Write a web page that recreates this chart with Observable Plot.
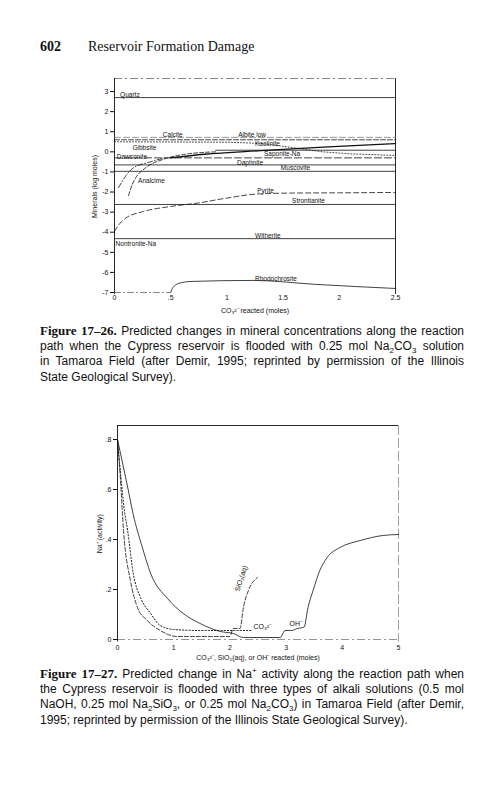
<!DOCTYPE html>
<html><head><meta charset="utf-8">
<script src="https://cdn.jsdelivr.net/npm/d3@7"></script>
<script src="https://cdn.jsdelivr.net/npm/@observablehq/plot@0.6"></script>
<style>
body{margin:0;width:498px;height:800px;position:relative;background:#fff;overflow:hidden;font-family:"Liberation Sans",Arial,sans-serif;color:#111}
.hdr{position:absolute;left:40px;top:39px;font-family:"Liberation Serif","Times New Roman",serif;font-size:14px;line-height:16px}
.cap{position:absolute;left:40px;width:424px;font-size:12px;line-height:15.7px}
.cap div{white-space:nowrap;text-align:justify;text-align-last:justify;height:15.7px}
.cap div.last{text-align-last:left}
.cap b{font-family:"Liberation Serif","Times New Roman",serif;font-size:13px}
.cap sub,.cap sup{font-size:8px;line-height:0}
.chart{position:absolute;left:0}
</style></head>
<body>
<div class="hdr"><b>602</b><span style="position:absolute;left:48px;white-space:nowrap">Reservoir Formation Damage</span></div>
<div id="c1" class="chart" style="top:0"></div>
<div class="cap" style="top:323px">
<div><b>Figure 17–26.</b> Predicted changes in mineral concentrations along the reaction</div>
<div>path when the Cypress reservoir is flooded with 0.25 mol Na<sub>2</sub>CO<sub>3</sub> solution</div>
<div>in Tamaroa Field (after Demir, 1995; reprinted by permission of the Illinois</div>
<div class="last">State Geological Survey).</div>
</div>
<div id="c2" class="chart" style="top:400px"></div>
<div class="cap" style="top:666px">
<div><b>Figure 17–27.</b> Predicted change in Na<sup>+</sup> activity along the reaction path when</div>
<div>the Cypress reservoir is flooded with three types of alkali solutions (0.5 mol</div>
<div>NaOH, 0.25 mol Na<sub>2</sub>SiO<sub>3</sub>, or 0.25 mol Na<sub>2</sub>CO<sub>3</sub>) in Tamaroa Field (after Demir,</div>
<div class="last">1995; reprinted by permission of the Illinois State Geological Survey).</div>
</div>
<script>
// ---------- Figure 17-26 data ----------
const xDomain1 = [0, 2.5];
const yDomain1 = [-7.1, 3.65];
const xTicks1 = [0, 0.5, 1, 1.5, 2, 2.5];
const xTickLabels1 = ["0", ".5", "1", "1.5", "2", "2.5"];
const yTicks1 = [3, 2, 1, 0, -1, -2, -3, -4, -5, -6, -7];

const quartz = [[0, 2.7], [2.5, 2.7]];
const calcite = [[0, 0.72], [2.5, 0.72]];
const albiteLow = [[0, 0.6], [2.5, 0.6]];
const gibbsite = [[0, 0.5], [1.0, 0.48], [1.3, 0.42], [1.6, 0.2], [1.85, 0.0], [2.1, -0.1], [2.5, -0.18]];
const kaolinite = [[0.5, -0.3], [0.8, -0.12], [1.3, 0.06], [1.9, 0.25], [2.5, 0.41]];
const saponiteNa = [[0.9, 0.08], [2.5, 0.08]];
const dawsonite = [[0, -0.3], [2.5, -0.3]];
const dawsoniteRise = [[0.036, -1.78], [0.1, -1.2], [0.16, -0.83], [0.3, -0.53], [0.45, -0.3]];
const daphnite = [[0, -0.65], [2.5, -0.65]];
const muscovite = [[0, -0.97], [2.5, -0.97]];
const analcime = [[0.125, -2.17], [0.16, -1.6], [0.19, -1.28], [0.28, -0.78], [0.43, -0.38], [0.63, -0.12], [0.9, 0.0]];
const pyrite = [[0, -3.95], [0.05, -3.55], [0.1, -3.3], [0.25, -2.98], [0.5, -2.72], [0.74, -2.55], [1.0, -2.3], [1.27, -2.1], [1.6, -2.05], [2.0, -2.04], [2.5, -2.02]];
const strontianite = [[0, -2.62], [2.5, -2.62]];
const witherite = [[0, -4.32], [2.5, -4.32]];
const rhodochrosite = [[0.5, -7], [0.52, -6.75], [0.57, -6.55], [0.68, -6.45], [1.24, -6.4], [1.8, -6.6], [2.5, -6.8]];
const rhodoFlat = [[0, -7], [0.5, -7]];

const labelNames1 = ["Quartz", "Calcite", "Albite low", "Gibbsite", "Kaolinite", "Saponite-Na", "Dawsonite", "Daphnite", "Muscovite", "Analcime", "Pyrite", "Strontianite", "Witherite", "Nontronite-Na", "Rhodochrosite"];
const labelX1 = [0.05, 0.43, 1.1, 0.16, 1.25, 1.33, 0.02, 1.09, 1.48, 0.21, 1.27, 1.58, 1.25, 0.01, 1.25];
const labelY1 = [2.85, 0.86, 0.86, 0.21, 0.41, -0.12, -0.26, -0.53, -0.78, -1.43, -1.93, -2.42, -4.16, -4.6, -6.3];

// ---------- Figure 17-27 data ----------
const xDomain2 = [0, 5];
const yDomain2 = [-0.01, 0.856];
const xTicks2 = [0, 1, 2, 3, 4, 5];
const yTicks2 = [0, 0.2, 0.4, 0.6, 0.8];
const yTickLabels2 = ["0", ".2", ".4", ".6", ".8"];

const naoh = [[0, 0.8], [0.18, 0.61], [0.28, 0.5], [0.44, 0.37], [0.59, 0.264], [0.89, 0.164], [1.17, 0.104], [1.47, 0.064], [1.83, 0.032], [2.06, 0.024], [2.24, 0.008], [2.9, 0.008], [2.93, 0.018], [2.98, 0.036], [3.1, 0.036], [3.2, 0.044], [3.32, 0.05], [3.39, 0.128], [3.48, 0.196], [3.6, 0.276], [3.73, 0.328], [3.96, 0.368], [4.32, 0.396], [4.72, 0.416], [5.0, 0.42]];
const na2co3 = [[0, 0.8], [0.06, 0.65], [0.12, 0.52], [0.18, 0.436], [0.28, 0.264], [0.41, 0.168], [0.59, 0.104], [0.76, 0.056], [1.0, 0.04], [1.47, 0.036], [2.4, 0.036]];
const na2sio3 = [[0, 0.8], [0.05, 0.65], [0.107, 0.436], [0.23, 0.236], [0.355, 0.128], [0.53, 0.076], [0.76, 0.036], [1.07, 0.012], [2.0, 0.012], [2.06, 0.044], [2.18, 0.044], [2.24, 0.128], [2.33, 0.196], [2.49, 0.248]];

const curveLabels2 = ["CO₃²⁻", "OH⁻"];
const curveLabelX2 = [2.42, 3.06];
const curveLabelY2 = [0.05, 0.062];
const sioLabel = ["SiO₂(aq)"];
const sioLabelX = [2.2];
const sioLabelY = [0.244];

// ---------- Chart 1 ----------
const L = (pts, o) => Plot.line(pts, {x: d => d[0], y: d => d[1], stroke: "#111", strokeWidth: 0.8, ...o});
const c1 = Plot.plot({
  width: 498, height: 320,
  marginLeft: 114, marginRight: 103, marginTop: 78, marginBottom: 26,
  style: {fontFamily: "Liberation Sans, Arial, sans-serif", fontSize: "7px", background: "transparent", color: "#111"},
  x: {domain: xDomain1, ticks: xTicks1, tickFormat: d => xTickLabels1[xTicks1.indexOf(d)], tickSize: 0, tickPadding: 1,
      label: "CO₃²⁻ reacted (moles)", labelAnchor: "center", labelOffset: 18, labelArrow: false},
  y: {domain: yDomain1, ticks: yTicks1, tickFormat: d => String(d), tickSize: 4, tickPadding: 2,
      label: "Minerals (log moles)", labelAnchor: "center", labelOffset: 22, labelArrow: false},
  marks: [
    Plot.ruleY([yDomain1[1]], {stroke: "#666", strokeDasharray: "8,3,2,3", strokeWidth: 0.8}),
    Plot.ruleX([xDomain1[0]], {stroke: "#111", strokeWidth: 0.9}),
    Plot.ruleX([xDomain1[1]], {stroke: "#111", strokeWidth: 0.9}),
    L(quartz, {}),
    L(calcite, {stroke: "#777", strokeDasharray: "6,3"}),
    L(albiteLow, {strokeDasharray: "5,2"}),
    L(gibbsite, {strokeDasharray: "1,2"}),
    L(kaolinite, {strokeWidth: 1.3, curve: "monotone-x"}),
    L(saponiteNa, {}),
    L(dawsonite, {strokeDasharray: "7,3"}),
    L(dawsoniteRise, {strokeDasharray: "5,2,1,2", curve: "monotone-x"}),
    L(daphnite, {}),
    L(muscovite, {}),
    L(analcime, {strokeDasharray: "4,2", curve: "monotone-x"}),
    L(pyrite, {strokeDasharray: "5,3", curve: "monotone-x"}),
    L(strontianite, {}),
    L(witherite, {}),
    L(rhodochrosite, {curve: "monotone-x"}),
    L(rhodoFlat, {stroke: "#666", strokeDasharray: "6,3,1,3"}),
    Plot.text(labelNames1, {x: (d, i) => labelX1[i], y: (d, i) => labelY1[i], text: d => d, textAnchor: "start", fontSize: 6.5, fill: "#111"})
  ]
});
document.getElementById("c1").appendChild(c1);

// ---------- Chart 2 ----------
const c2 = Plot.plot({
  width: 498, height: 270,
  marginLeft: 117, marginRight: 100, marginTop: 25, marginBottom: 28.5,
  style: {fontFamily: "Liberation Sans, Arial, sans-serif", fontSize: "7px", background: "transparent", color: "#111"},
  x: {domain: xDomain2, ticks: xTicks2, tickFormat: d => String(d), tickSize: 0, tickPadding: 3,
      label: "CO₃²⁻, SiO₂(aq), or OH⁻ reacted (moles)", labelAnchor: "center", labelOffset: 18, labelArrow: false},
  y: {domain: yDomain2, ticks: yTicks2, tickFormat: d => yTickLabels2[yTicks2.indexOf(d)], tickSize: 4, tickPadding: 2,
      label: "Na⁺ (activity)", labelAnchor: "center", labelOffset: 20, labelArrow: false},
  marks: [
    Plot.ruleY([yDomain2[1]], {stroke: "#111", strokeWidth: 0.9}),
    Plot.ruleY([0], {stroke: "#777", strokeDasharray: "8,3,2,3", strokeWidth: 0.8}),
    Plot.ruleX([xDomain2[0]], {stroke: "#111", strokeWidth: 0.9}),
    Plot.ruleX([xDomain2[1]], {stroke: "#888", strokeDasharray: "10,3", strokeWidth: 0.8}),
    L(naoh, {curve: "monotone-x"}),
    L(na2co3, {strokeDasharray: "1.2,2", strokeWidth: 1, curve: "monotone-x"}),
    L(na2sio3, {strokeDasharray: "4,2", curve: "monotone-x"}),
    Plot.text(curveLabels2, {x: (d, i) => curveLabelX2[i], y: (d, i) => curveLabelY2[i], text: d => d, textAnchor: "start", fontSize: 7, fill: "#111"}),
    Plot.text(sioLabel, {x: (d, i) => sioLabelX[i], y: (d, i) => sioLabelY[i], text: d => d, rotate: -72, fontSize: 7, fill: "#111"})
  ]
});
document.getElementById("c2").appendChild(c2);
</script>
</body></html>
